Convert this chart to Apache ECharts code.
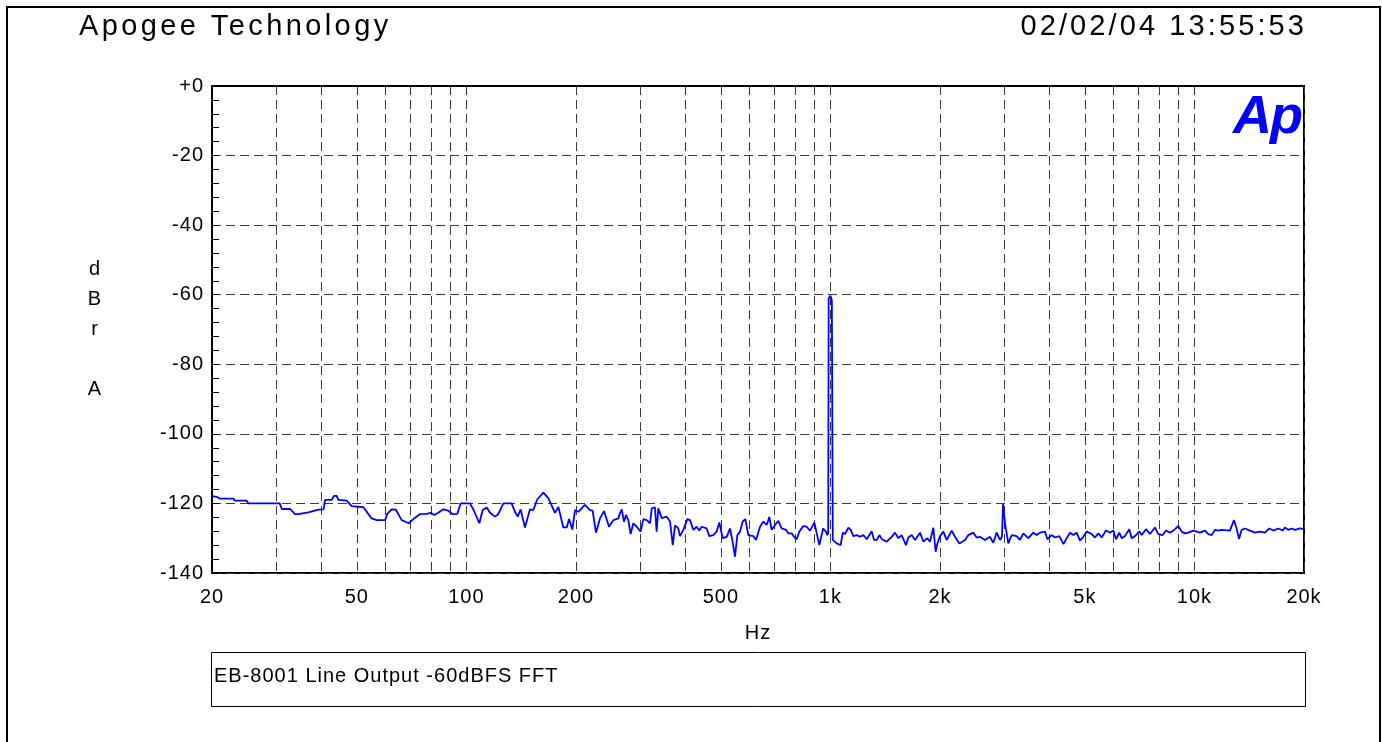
<!DOCTYPE html>
<html>
<head>
<meta charset="utf-8">
<style>
  html, body { margin: 0; padding: 0; background: #fff; }
  #chart { width: 1382px; height: 742px; }
</style>
<script src="https://cdn.jsdelivr.net/npm/echarts@6.0.0/dist/echarts.min.js"></script>
</head>
<body>
<div id="chart"></div>
<script>
// ---- Data ----
const titleText = 'Apogee Technology';
const dateText = '02/02/04 13:55:53';
const legendText = 'EB-8001 Line Output -60dBFS FFT';
const yAxisTitle = ['d', 'B', 'r', '', 'A'];
const xAxisTitle = 'Hz';

const xLabelFreqs = [20, 50, 100, 200, 500, 1000, 2000, 5000, 10000, 20000];
const xGridFreqs = [20, 30, 40, 50, 60, 70, 80, 90, 100, 200, 300, 400, 500, 600, 700, 800, 900,
  1000, 2000, 3000, 4000, 5000, 6000, 7000, 8000, 9000, 10000, 20000];
const yMin = -140, yMax = 0, yStep = 20;

const freqHz = [
  20, 20.6, 21.0, 22.9, 23.1, 24.9, 25.2, 30.7, 31.1, 32.8, 33.8, 34.5, 34.9, 36.8, 37.2, 39.2,
  40.5, 40.9, 42.6, 43.3, 44.0, 44.5, 46.9, 48.4, 52.1, 54.9, 56.7, 59.8, 60.6, 62.3, 64.0, 66.4,
  69.4, 71.5, 74.5, 77.8, 79.8, 81.6, 83.7, 86.4, 89.2, 91.7, 94.4, 96.4, 102.3, 104.9, 108.5,
  110.8, 113.7, 116.1, 119.8, 122.3, 126.3, 133.1, 135.9, 138.3, 140.9, 144.8, 149.5, 152.7,
  156.6, 162.7, 167.9, 175.1, 178.9, 184.6, 188.6, 191.4, 195.4, 198.8, 203, 211.6, 218.6, 222.2,
  226.9, 232.8, 238.8, 246.4, 253.3, 261.4, 264.2, 267.1, 271, 274.4, 278.4, 282.6, 287.4, 293.6,
  301.1, 306.2, 312.8, 319.5, 322.9, 329.6, 333.1, 336.7, 343.9, 355, 362.6, 368.8, 374.2, 382,
  386.2, 394.4, 404.4, 411.4, 420.2, 429.2, 436.4, 442.8, 457, 464.8, 476.6, 486.8, 495.2, 505.8,
  518.8, 529.8, 537.6, 546.8, 555, 564.4, 574, 583.8, 595, 614.2, 624.6, 640.6, 654.2, 668.2,
  679.4, 689.6, 704.2, 719.2, 734.6, 755, 766.2, 782.6, 794.2, 807.6, 821.4, 842.4, 860.4, 878.6,
  903, 912.6, 932.2, 955, 972, 980.6, 986, 989, 1000, 1009, 1015, 1023, 1040, 1067, 1081, 1097,
  1120, 1137, 1156, 1181, 1206, 1232, 1258, 1279, 1298, 1318, 1340, 1363, 1383, 1427, 1473, 1505,
  1537, 1569, 1613, 1637, 1672, 1708, 1763, 1800, 1846, 1877, 1917, 1946, 1967, 2000, 2043, 2086,
  2154, 2199, 2260, 2344, 2393, 2470, 2522, 2576, 2658, 2744, 2802, 2862, 2924, 2960, 2980, 2995,
  3020, 3081, 3148, 3248, 3317, 3388, 3497, 3610, 3687, 3765, 3886, 3944, 4054, 4140, 4254, 4365,
  4457, 4552, 4649, 4749, 4849, 4952, 5059, 5221, 5331, 5444, 5562, 5715, 5862, 5986, 6089, 6217,
  6313, 6445, 6623, 6723, 6865, 7056, 7163, 7363, 7549, 7793, 7956, 8181, 8354, 8568, 8750, 9031,
  9226, 9422, 9619, 9930, 10360, 10690, 10920, 11150, 11390, 11630, 11880, 12520, 12840, 13060,
  13260, 13480, 13770, 14210, 14670, 15140, 15630, 16060, 16470, 17000, 17480, 17730, 18110,
  18500, 18890, 19500, 19910, 20000
];
const levelDb = [
  -117.9, -118.1, -118.6, -118.6, -119.2, -119.2, -120, -120, -121.6, -121.6, -123.1, -123.1, -122.6, -122.6, -122.2, -121.8,
  -121.7, -119, -119, -117.8, -117.8, -119, -119.2, -120.8, -121.1, -124.3, -124.8, -124.8, -123, -121.7, -121.8, -124.8,
  -125.7, -124.5, -123.1, -123, -122.7, -123.3, -122.7, -121.7, -122.1, -123.1, -123, -120, -120, -122.1, -125.7,
  -121.9, -121.2, -122.7, -123.8, -123.1, -120, -120, -122.4, -123.8, -121.7, -126.9, -121.7, -121.9,
  -118.8, -116.9, -118.5, -122.7, -121, -126.9, -126.9, -124.5, -127.5, -121.9, -122.4, -120.4, -121.9, -122.1,
  -128.4, -124.3, -122.2, -126.7, -124.8, -124.3, -122.8, -121.7, -125.3, -123.3, -124.8, -128.8, -125.7, -126.7,
  -128.1, -124.5, -124.8, -125.7, -121.4, -121.1, -128.1, -121.4, -124.2, -123.8, -125.2, -132, -126.3, -127.2,
  -129.4, -127.6, -124.5, -124.8, -127.6, -126.7, -127.8, -126.7, -127.2, -129.4, -129.1, -128.1, -125.5, -130,
  -129.6, -127.2, -130.5, -135.3, -129.1, -128.1, -125.2, -124.5, -129.1, -129.4, -130.5, -126.7, -125.2, -126.2,
  -123.9, -127.6, -126.2, -125, -127.2, -127.6, -128.6, -128.6, -129.6, -130.3, -128.1, -126.5, -126.7, -127.8,
  -125.5, -127.6, -132, -127.2, -128.1, -129.1, -128.5, -61, -60.3, -61.5, -130.5, -130.5, -131.5, -132, -128.4, -128.8,
  -127, -127.6, -129.4, -129.1, -129.6, -129.1, -130.3, -129.1, -128, -130.5, -130.5, -129.1, -130.2, -131, -129.6, -128.4,
  -130, -129.1, -132, -129.8, -129.1, -130.5, -128.4, -131, -130, -131, -127, -133.9, -131.5, -129.4, -128.1, -130.5,
  -127.8, -129.6, -131.5, -130.5, -129.1, -128.4, -129.8, -129.6, -130.5, -129.6, -131.3, -128.4, -130.5, -129.5, -120.2, -120,
  -126, -131.5, -129.1, -129.4, -130.5, -128.6, -130, -128.4, -129.1, -128.4, -128.1, -130.3, -129.1, -129.8, -129.4, -131.7,
  -130, -128.4, -129.1, -128.4, -130.7, -129.6, -128.1, -128.8, -129.8, -128.6, -129.8, -127.8, -128.4, -127.8, -130.3, -128.4,
  -130, -129.4, -127.4, -130, -129.4, -128.1, -129.1, -127.4, -128.8, -126.9, -128.8, -129.1, -127.8, -128.4, -127.8, -126.5,
  -128.1, -128.6, -128.4, -127.8, -128.4, -127.8, -128.8, -129.1, -127.6, -127.8, -127.6, -127.8, -124.8, -127.2,
  -130.2, -127.6, -127.2, -127.8, -128.4, -128.1, -128.4, -127.2, -127.8, -127.2, -127.8, -126.9, -127.6,
  -127.2, -127.6, -127.2, -127.4, -127.6
];

// ---- Letter spacing of the plotter's fonts (canvas text) ----
const letterSpacingPx = { 'Apogee Technology': 3.4, '02/02/04 13:55:53': 3.1, 'Ap': -2 };
const origFillText = CanvasRenderingContext2D.prototype.fillText;
CanvasRenderingContext2D.prototype.fillText = function (t) {
  const ls = Object.prototype.hasOwnProperty.call(letterSpacingPx, t) ? letterSpacingPx[t] : 1;
  const prev = this.letterSpacing;
  if (prev !== undefined) this.letterSpacing = ls + 'px';
  const r = origFillText.apply(this, arguments);
  if (prev !== undefined) this.letterSpacing = prev;
  return r;
};

const FONT = "'Liberation Sans', Arial, Helvetica, sans-serif";
const lg = v => Math.log10(v);
function fmtFreq(v) {
  const f = Math.round(Math.pow(10, v));
  return f >= 1000 ? (f / 1000) + 'k' : String(f);
}

const seriesData = freqHz.map((f, i) => [lg(f), levelDb[i]]);

const chart = echarts.init(document.getElementById('chart'), null, { renderer: 'canvas' });
const dash = [9, 5];

chart.setOption({
  backgroundColor: '#fff',
  animation: false,
  grid: {
    left: 212, right: 78, top: 86, bottom: 169,
    show: true, borderColor: '#000', borderWidth: 2, backgroundColor: 'transparent'
  },
  xAxis: {
    type: 'value',
    min: lg(20), max: lg(20000),
    name: xAxisTitle, nameLocation: 'middle', nameGap: 50,
    nameTextStyle: { color: '#000', fontSize: 20, fontFamily: FONT },
    axisLine: { show: true, lineStyle: { color: '#000', width: 2 } },
    axisTick: { show: false, customValues: xGridFreqs.map(lg) },
    axisLabel: {
      customValues: xLabelFreqs.map(lg),
      formatter: fmtFreq,
      color: '#000', fontSize: 20, fontFamily: FONT, margin: 14
    },
    splitLine: { show: true, lineStyle: { color: '#3a3a3a', width: 1, type: dash } }
  },
  yAxis: {
    type: 'value',
    min: yMin, max: yMax, interval: yStep,
    axisLine: { show: true, lineStyle: { color: '#000', width: 2 } },
    axisTick: { show: true, inside: true, length: 7, lineStyle: { color: '#000', width: 1 } },
    minorTick: { show: true, splitNumber: 5, length: 7, lineStyle: { color: '#000', width: 1 } },
    axisLabel: {
      formatter: v => (v === 0 ? '+0' : String(v)),
      color: '#000', fontSize: 20, fontFamily: FONT, margin: 8
    },
    splitLine: { show: true, lineStyle: { color: '#3a3a3a', width: 1, type: dash } }
  },
  series: [{
    type: 'line',
    data: seriesData,
    showSymbol: false,
    symbol: 'none',
    lineStyle: { color: '#0000ff', width: 1.8 },
    clip: true,
    z: 5
  }],
  graphic: [
    { type: 'rect', shape: { x: 7, y: 7, width: 1373, height: 800 },
      style: { fill: 'none', stroke: '#000', lineWidth: 2 }, silent: true },
    { type: 'text', x: 79, y: 27,
      style: { text: titleText, fill: '#000', font: '29px ' + FONT, textAlign: 'left', textVerticalAlign: 'middle' } },
    { type: 'text', x: 1307, y: 27,
      style: { text: dateText, fill: '#000', font: '29px ' + FONT, textAlign: 'right', textVerticalAlign: 'middle' } },
    { type: 'text', x: 1301, y: 118,
      style: { text: 'Ap', fill: '#0000ff', font: 'italic bold 54px ' + FONT, textAlign: 'right', textVerticalAlign: 'middle' } },
    { type: 'text', x: 95, y: 329.5,
      style: { text: yAxisTitle.join('\n'), fill: '#000', font: '20px ' + FONT, lineHeight: 30,
        textAlign: 'center', textVerticalAlign: 'middle' } },
    { type: 'rect', shape: { x: 211.5, y: 652.5, width: 1094, height: 54 },
      style: { fill: 'none', stroke: '#000', lineWidth: 1 }, silent: true },
    { type: 'text', x: 214, y: 676,
      style: { text: legendText, fill: '#000', font: '20px ' + FONT, textAlign: 'left', textVerticalAlign: 'middle' } }
  ]
});
</script>
</body>
</html>
